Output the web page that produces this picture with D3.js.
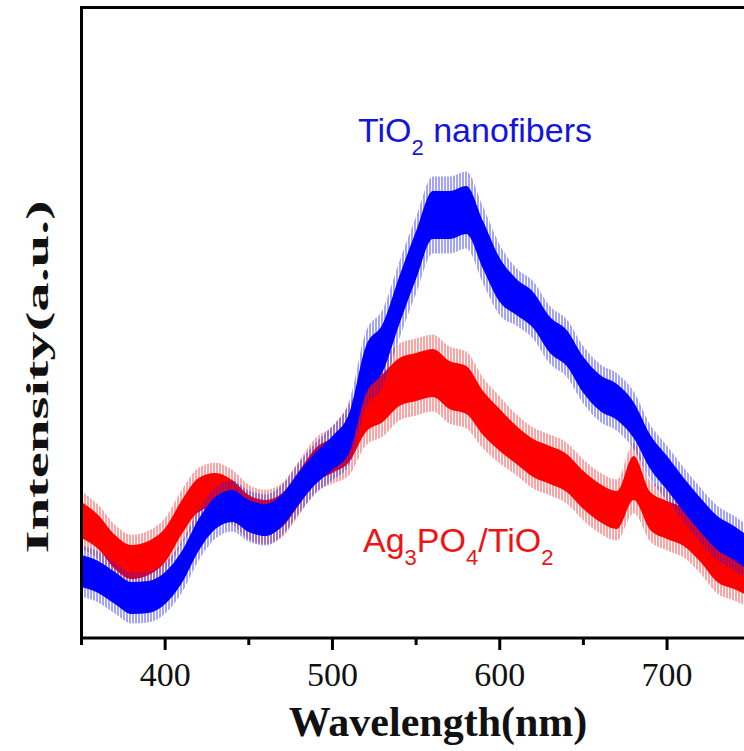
<!DOCTYPE html>
<meta charset="utf-8">
<style>
body { margin: 0; background: #fff; }
.tick-label { font-family: "Liberation Serif", "Times New Roman", serif; font-size: 34px; fill: #111; }
.axis-title { font-family: "Liberation Serif", "Times New Roman", serif; font-weight: bold; fill: #111; }
.series-label { font-family: "Liberation Sans", Arial, sans-serif; font-size: 34px; }
</style>
<svg width="744" height="751"></svg>
<script src="https://d3js.org/d3.v7.min.js"></script>
<script>

// wavelength (nm), read every 10 nm off the picture
var wavelengths = [350, 360, 370, 380, 390, 400, 410, 420, 430, 440,
                   450, 460, 470, 480, 490, 500, 510, 520, 530, 540,
                   550, 560, 570, 580, 590, 600, 610, 620, 630, 640,
                   650, 660, 670, 680, 690, 700, 710, 720, 730, 740, 750];

// middle of the noisy trace (a.u.)
var tio2 = [67, 61, 50, 40, 41, 50, 71, 103, 125, 132,
            122, 118, 128, 150, 170, 185, 205, 268, 290, 338,
            383, 423, 423, 428, 393, 358, 341, 328, 303, 290,
            263, 245, 236, 218, 186, 165, 143, 123, 105, 95, 83];

var ag3po4 = [118, 106, 86, 76, 80, 93, 121, 143, 148, 141,
              126, 121, 128, 150, 173, 183, 198, 228, 240, 256,
              261, 265, 253, 248, 225, 208, 193, 180, 173, 165,
              148, 135, 128, 160, 127, 118, 111, 95, 75, 68, 60];

// half width of the dense noise band (a.u.)
var tio2Noise = [16, 16, 16, 16, 16, 16, 16, 16, 16, 16,
                 16, 16, 16, 16, 16, 17, 20, 24, 24, 24,
                 24, 24, 24, 24, 24, 22, 18, 18, 18, 18,
                 18, 18, 18, 18, 17, 17, 17, 17, 17, 17, 17];

var ag3po4Noise = [18, 17, 17, 17, 17, 17, 17, 17, 17, 17,
                   17, 17, 17, 17, 17, 18, 22, 22, 24, 24,
                   24, 24, 24, 24, 22, 21, 19, 19, 19, 19,
                   19, 19, 19, 22, 19, 19, 19, 19, 19, 19, 19];

var majorTicks = [400, 500, 600, 700, 800],
    minorTicks = [350, 450, 550, 650, 750],
    tickLabels = [400, 500, 600, 700];

var svg = d3.select("svg"),
    plotLeft = 81.5, plotTop = 7.5, plotBottom = 638;

var x = d3.scaleLinear().domain([350, 800]).range([plotLeft, plotLeft + 450 * 1.673]),
    y = d3.scaleLinear().domain([0, 630.5]).range([plotBottom, plotTop]);

var defs = svg.append("defs");

defs.append("clipPath")
    .attr("id", "plot-clip")
  .append("rect")
    .attr("x", plotLeft)
    .attr("y", plotTop)
    .attr("width", 900)
    .attr("height", plotBottom - plotTop);

function spikePattern(id, color) {
    var p = defs.append("pattern")
        .attr("id", id)
        .attr("patternUnits", "userSpaceOnUse")
        .attr("width", 3)
        .attr("height", 12);
    p.append("line")
        .attr("x1", 1).attr("x2", 1)
        .attr("y1", 0).attr("y2", 12)
        .attr("stroke", color)
        .attr("stroke-width", 1);
}
spikePattern("spikes-red", "#ff1a1a");
spikePattern("spikes-blue", "#1a1aff");

var series = [
    {name: "ag3po4", values: ag3po4, noise: ag3po4Noise, color: "#ff0000", pattern: "spikes-red"},
    {name: "tio2", values: tio2, noise: tio2Noise, color: "#0000ff", pattern: "spikes-blue"}
];

var plot = svg.append("g").attr("clip-path", "url(#plot-clip)");

series.forEach(function(s) {
    var pts = wavelengths.map(function(w, i) {
        return {w: w, v: s.values[i], n: s.noise[i]};
    });

    var fringe = d3.area()
        .curve(d3.curveMonotoneX)
        .x(function(d) { return x(d.w); })
        .y0(function(d) { return y(d.v - d.n * 1.6); })
        .y1(function(d) { return y(d.v + d.n * 1.6); });

    var core = d3.area()
        .curve(d3.curveMonotoneX)
        .x(function(d) { return x(d.w); })
        .y0(function(d) { return y(d.v - d.n); })
        .y1(function(d) { return y(d.v + d.n); });

    plot.append("path")
        .datum(pts)
        .attr("d", fringe)
        .attr("fill", "url(#" + s.pattern + ")")
        .attr("opacity", 0.8);

    plot.append("path")
        .datum(pts)
        .attr("d", core)
        .attr("fill", s.color);
});

// frame
svg.append("line")
    .attr("x1", plotLeft).attr("x2", 744)
    .attr("y1", plotTop).attr("y2", plotTop)
    .attr("stroke", "#000").attr("stroke-width", 3);

svg.append("line")
    .attr("x1", plotLeft).attr("x2", plotLeft)
    .attr("y1", plotTop - 1.5).attr("y2", plotBottom)
    .attr("stroke", "#000").attr("stroke-width", 3);

svg.append("line")
    .attr("x1", plotLeft - 1.5).attr("x2", 744)
    .attr("y1", plotBottom).attr("y2", plotBottom)
    .attr("stroke", "#000").attr("stroke-width", 3);

// ticks
svg.selectAll(".major")
    .data(majorTicks)
    .enter().append("line")
    .attr("class", "major")
    .attr("x1", function(d) { return x(d); })
    .attr("x2", function(d) { return x(d); })
    .attr("y1", plotBottom).attr("y2", plotBottom + 12)
    .attr("stroke", "#000").attr("stroke-width", 3);

svg.selectAll(".minor")
    .data(minorTicks)
    .enter().append("line")
    .attr("class", "minor")
    .attr("x1", function(d) { return x(d); })
    .attr("x2", function(d) { return x(d); })
    .attr("y1", plotBottom).attr("y2", plotBottom + 7)
    .attr("stroke", "#000").attr("stroke-width", 3);

svg.selectAll(".tick-label")
    .data(tickLabels)
    .enter().append("text")
    .attr("class", "tick-label")
    .attr("x", function(d) { return x(d); })
    .attr("y", 686)
    .attr("text-anchor", "middle")
    .text(function(d) { return d; });

svg.append("text")
    .attr("class", "axis-title")
    .attr("x", 438)
    .attr("y", 736)
    .attr("text-anchor", "middle")
    .style("font-size", "42px")
    .text("Wavelength(nm)");

svg.append("text")
    .attr("class", "axis-title")
    .attr("transform", "translate(48,377) rotate(-90)")
    .attr("text-anchor", "middle")
    .attr("textLength", 353)
    .attr("lengthAdjust", "spacingAndGlyphs")
    .style("font-size", "32px")
    .text("Intensity(a.u.)");

// series labels: [text, isSubscript]
function label(parts, xPos, yPos, color) {
    var t = svg.append("text")
        .attr("class", "series-label")
        .attr("x", xPos)
        .attr("y", yPos)
        .attr("fill", color);
    var shifted = false;
    parts.forEach(function(p) {
        var dy = 0;
        if (p[1] && !shifted) { dy = 13; shifted = true; }
        else if (!p[1] && shifted) { dy = -13; shifted = false; }
        t.append("tspan")
            .attr("dy", dy)
            .style("font-size", p[1] ? "22px" : null)
            .text(p[0]);
    });
}

label([["TiO"], ["2", true], [" nanofibers"]], 358, 142, "#1414dc");
label([["Ag"], ["3", true], ["PO"], ["4", true], ["/TiO"], ["2", true]], 363, 552, "#ee1414");

</script>
